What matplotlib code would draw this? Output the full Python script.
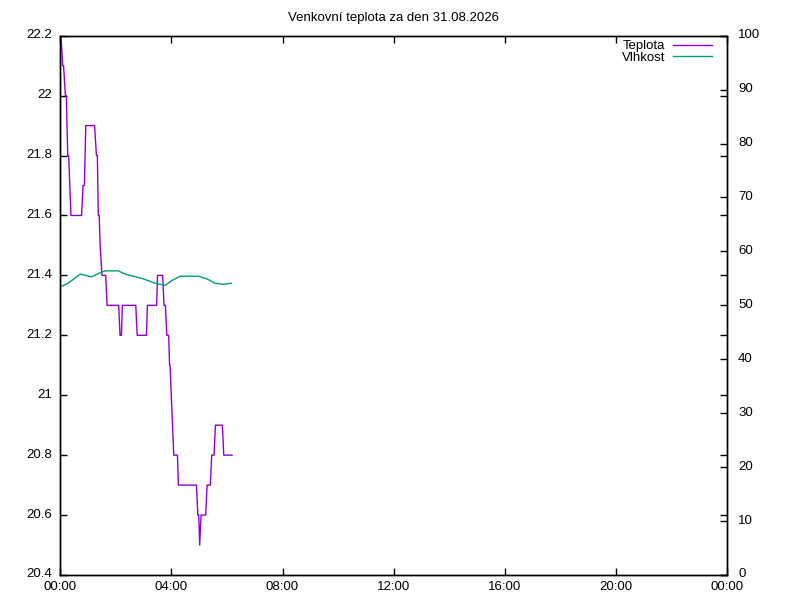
import matplotlib.pyplot as plt
import matplotlib.transforms as mtransforms

# =====================================================
# Data (minutes after midnight)
# =====================================================

TITLE = "Venkovní teplota za den 31.08.2026"

temp_min = [1.5, 5, 7, 11, 13, 16, 18, 23, 46, 49, 52, 55, 74, 78, 80, 82,
            84, 86, 90, 98, 101, 126, 129, 132, 134, 163, 166, 186, 188,
            208, 210, 221, 224, 227, 230, 234, 236, 237, 245, 253, 255,
            294, 297, 299, 301, 304, 314, 317, 324, 327, 332, 335, 350,
            353, 371]
temp_val = [22.2, 22.1, 22.1, 22.0, 22.0, 21.8, 21.8, 21.6, 21.6, 21.7,
            21.7, 21.9, 21.9, 21.8, 21.8, 21.6, 21.6, 21.5, 21.4, 21.4,
            21.3, 21.3, 21.2, 21.2, 21.3, 21.3, 21.2, 21.2, 21.3, 21.3,
            21.4, 21.4, 21.3, 21.3, 21.2, 21.2, 21.1, 21.1, 20.8, 20.8,
            20.7, 20.7, 20.6, 20.6, 20.5, 20.6, 20.6, 20.7, 20.7, 20.8,
            20.8, 20.9, 20.9, 20.8, 20.8]

hum_min = [1.5, 17, 43, 61, 68, 82, 97, 125, 140, 176, 205, 226, 241,
           259, 298, 317, 334, 352, 369]
hum_val = [53.5, 54.1, 55.8, 55.4, 55.3, 55.9, 56.4, 56.4, 55.8, 55.0,
           54.1, 53.7, 54.6, 55.4, 55.4, 54.9, 54.1, 53.9, 54.1]

x_ticks = [0, 240, 480, 720, 960, 1200, 1440]
x_labels = ["00:00", "04:00", "08:00", "12:00", "16:00", "20:00", "00:00"]
t_ticks = [20.4, 20.6, 20.8, 21.0, 21.2, 21.4, 21.6, 21.8, 22.0, 22.2]
t_labels = ["20.4", "20.6", "20.8", "21", "21.2", "21.4", "21.6", "21.8", "22", "22.2"]
h_ticks = [0, 10, 20, 30, 40, 50, 60, 70, 80, 90, 100]

# =====================================================
# Style
# =====================================================

plt.rcParams['font.family'] = ['Liberation Sans', 'DejaVu Sans']
plt.rcParams['font.size'] = 9.5

PURPLE = '#9400d3'
GREEN = '#009e73'

fig = plt.figure(figsize=(8, 6), dpi=100)
ax = fig.add_axes([0.0754, 0.0417, 0.8334, 0.8988])
ax2 = ax.twinx()

l1, = ax.plot(temp_min, temp_val, color=PURPLE, linewidth=1, label='Teplota')
l2, = ax2.plot(hum_min, hum_val, color=GREEN, linewidth=1, label='Vlhkost')

ax.set_xlim(0, 1440)
ax.set_ylim(20.4, 22.2)
ax2.set_ylim(0, 100)

ax.set_xticks(x_ticks)
ax.set_xticklabels(x_labels)
ax.set_yticks(t_ticks)
ax.set_yticklabels(t_labels)
ax2.set_yticks(h_ticks)

ax.tick_params(direction='in', length=5, width=1, top=True, right=True,
               pad=6, colors='black')
ax.tick_params(axis='x', pad=4)
ax2.tick_params(direction='in', length=5, width=1, pad=8)

for a in (ax, ax2):
    for s in a.spines.values():
        s.set_linewidth(1)

# gnuplot sits the y labels a touch above their ticks
shift = mtransforms.ScaledTranslation(0, 2 / 100, fig.dpi_scale_trans)
for lab in ax.get_yticklabels() + ax2.get_yticklabels():
    lab.set_transform(lab.get_transform() + shift)

ax.set_title(TITLE, fontsize=9.5, pad=10.5)

ax.legend(handles=[l1, l2], loc='upper right', frameon=False,
          markerfirst=False, handlelength=2.95, handletextpad=0.6,
          labelspacing=-0.05, borderaxespad=0, borderpad=0, fontsize=9.5,
          bbox_to_anchor=(0.9775, 0.992))

# =====================================================
# Save Figure
# =====================================================

fig.savefig('out.png', dpi=100)
